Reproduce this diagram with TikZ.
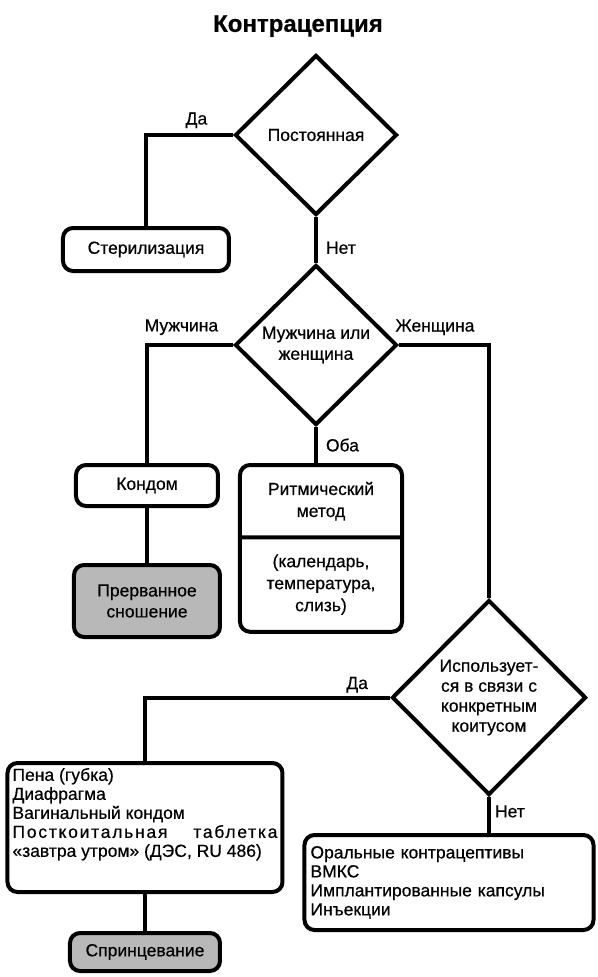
\documentclass[tikz,border=0pt]{standalone}
\usepackage{fontspec}
\setmainfont{Liberation Sans}[FakeBold=0.5]
\usetikzlibrary{positioning,shapes.geometric,shapes.multipart}
\newcommand\chartfont{\fontsize{17.5pt}{21pt}\selectfont}
\newcommand\listfont{\fontsize{17.5pt}{19pt}\selectfont}
\newcommand\headfont{\fontsize{24pt}{28pt}\selectfont\bfseries}

\begin{document}
\begin{tikzpicture}[node distance=36pt,box/.style={draw,line width=4pt,rounded corners=10pt,align=center,font=\chartfont},grey/.style={box,fill=black!28},decision/.style={diamond,draw,line width=4pt,aspect=1,inner sep=0pt,align=center,font=\chartfont,minimum width=162pt,minimum height=160pt},link/.style={line width=4pt},lbl/.style={font=\chartfont,inner sep=2pt,outer sep=0pt}]
\useasboundingbox (-316pt,135pt) rectangle (281pt,-842pt);
\node[decision] (perm) {Постоянная};
\node[font=\headfont,inner sep=0pt,above=16pt of perm,xshift=-18pt] (title) {Контрацепция};
\node[box,minimum width=166pt,minimum height=43pt,below=9pt of perm,xshift=-170pt] (ster) {Стерилизация};
\node[decision,below=46pt of perm] (mf) {Мужчина или\\женщина};
\node[box,minimum width=142pt,minimum height=41pt,below=36pt of mf,xshift=-169pt] (condom) {Кондом};
\node[box,rectangle split,rectangle split parts=2,text width=152pt,inner xsep=5pt,inner ysep=15pt,font=\fontsize{17.5pt}{22pt}\selectfont,below=36pt of mf,xshift=5pt] (ritm) {Ритмический\\метод\nodepart{two}(календарь,\\температура,\\слизь)};
\node[grey,minimum width=146pt,minimum height=72pt,below=55pt of condom] (prerv) {Прерванное\\сношение};
\node[decision,minimum width=194pt,minimum height=195pt,font=\fontsize{17.5pt}{20pt}\selectfont,below=171pt of mf,xshift=173pt] (coitus) {Использует-\\ся в связи с\\конкретным\\коитусом};
\node[box,inner sep=5pt,font=\listfont,below=122pt of prerv,xshift=-2pt] (barrier) {\parbox[t][119pt][t]{265pt}{Пена (губка)\\Диафрагма\\Вагинальный кондом\\\makebox[\linewidth][s]{\addfontfeatures{LetterSpace=10}Посткоитальная таблетка}\\«завтра утром» (ДЭС, RU 486)}};
\node[grey,minimum width=150pt,minimum height=38pt,below=37pt of barrier] (douche) {Спринцевание};
\node[box,align=left,text width=277pt,inner xsep=6pt,minimum height=95pt,font=\listfont,below=36pt of coitus,xshift=-40pt] (hormonal) {Оральные контрацептивы\\ВМКС\\Имплантированные капсулы\\Инъекции};
% connectors
\draw[link] (perm.west) -| node[lbl,pos=.21,above=5pt] {Да} (ster.north);
\draw[link] (perm.south) -- node[lbl,pos=.67,right=8pt] {Нет} (mf.north);
\draw[link] (mf.west) -| node[lbl,pos=.3,above=8pt] {Мужчина} (condom.north);
\draw[link] (mf.east) -| node[lbl,pos=.2,above=8pt] {Женщина} (coitus.north);
\draw[link] (mf.south) -- node[lbl,pos=.5,right=8pt] {Оба} (mf.south |- ritm.north);
\draw[link] (condom) -- (prerv);
\draw[link] (coitus.west) -| node[lbl,pos=.067,above=3pt] {Да} (barrier.north);
\draw[link] (coitus.south) -- node[lbl,pos=.4,right=4pt] {Нет} (coitus.south |- hormonal.north);
\draw[link] (barrier) -- (douche);
\end{tikzpicture}
\end{document}
